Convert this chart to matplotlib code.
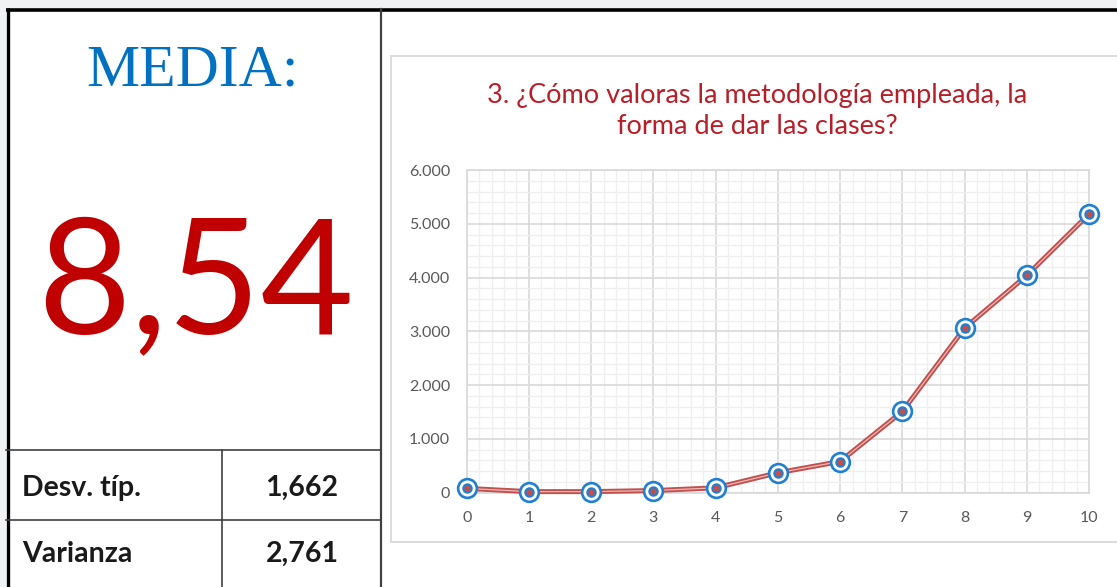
import matplotlib.pyplot as plt
from matplotlib.patches import Rectangle
from matplotlib.ticker import FuncFormatter, MultipleLocator

# ── Data ──────────────────────────────────────────────
scores = [0, 1, 2, 3, 4, 5, 6, 7, 8, 9, 10]
counts = [80, 20, 20, 40, 90, 370, 580, 1510, 3060, 4040, 5180]

mean_label = '8,54'
stats_names = ['Desv. típ.', 'Varianza']
stats_values = ['1,662', '2,761']
title = '3. ¿Cómo valoras la metodología empleada, la\nforma de dar las clases?'

W, H = 1117, 587
fig = plt.figure(figsize=(W / 100, H / 100), dpi=100, facecolor='#F0F2F4')


def px_rect(x0, y0, x1, y1):
    return [x0 / W, 1 - y1 / H, (x1 - x0) / W, (y1 - y0) / H]


# ── Background panel (pixel coordinates) ──────────────
bg = fig.add_axes([0, 0, 1, 1])
bg.set_xlim(0, W)
bg.set_ylim(H, 0)
bg.axis('off')

bg.add_patch(Rectangle((6, 8), W, H, facecolor='white', edgecolor='none'))
# chart frame
bg.add_patch(Rectangle((391, 56), 760, 486, facecolor='white',
                       edgecolor='#D9D9D9', lw=1.3))
# table lines
bg.plot([6, W], [9.5, 9.5], color='black', lw=2.6, solid_capstyle='butt')
bg.plot([7.5, 7.5], [8, H], color='black', lw=2.4, solid_capstyle='butt')
bg.plot([381, 381], [9, H], color='#404040', lw=1.6)
bg.plot([6, 381], [450, 450], color='#404040', lw=1.2)
bg.plot([6, 381], [520, 520], color='#404040', lw=1.2)
bg.plot([222, 222], [450, H], color='#404040', lw=1.2)

bg.text(192, 72, 'MEDIA:', family='Liberation Serif', fontsize=43,
        color='#0070C0', ha='center', va='center')
bg.text(196, 289, mean_label, family='Lato', fontsize=116,
        color='#C00000', ha='center', va='center')
for i, (name, val) in enumerate(zip(stats_names, stats_values)):
    yc = 488 + i * 66
    bg.text(22, yc, name, family='Lato', fontsize=20.5, fontweight='bold',
            color='#1A1A1A', ha='left', va='center')
    bg.text(302, yc, val, family='Lato', fontsize=20.5, fontweight='bold',
            color='#1A1A1A', ha='center', va='center')

bg.text(757, 111, title, family='Lato', fontsize=19.5, color='#B81E28',
        ha='center', va='center', linespacing=1.3)

# ── Line chart ────────────────────────────────────────
ax = fig.add_axes(px_rect(466.7, 170, 1089, 492.7))
ax.set_xlim(0, 10)
ax.set_ylim(0, 6000)
ax.set_facecolor('white')

ax.xaxis.set_major_locator(MultipleLocator(1))
ax.xaxis.set_minor_locator(MultipleLocator(0.2))
ax.yaxis.set_major_locator(MultipleLocator(1000))
ax.yaxis.set_minor_locator(MultipleLocator(200))
ax.grid(True, which='major', color='#D9D9D9', lw=1.2)
ax.grid(True, which='minor', color='#EFEFEF', lw=0.9)
ax.set_axisbelow(True)
for s in ax.spines.values():
    s.set_color('#D9D9D9')
    s.set_linewidth(1.2)

ax.yaxis.set_major_formatter(FuncFormatter(lambda v, p: f'{int(v):,}'.replace(',', '.')))
ax.tick_params(which='both', length=0)
ax.tick_params(axis='y', pad=12, labelsize=11.5, labelcolor='#595959')
ax.tick_params(axis='x', pad=13, labelsize=11.5, labelcolor='#595959')
for lab in ax.get_xticklabels() + ax.get_yticklabels():
    lab.set_family('Lato')

ax.plot(scores, counts, color='#C0504D', lw=3.6, zorder=3, clip_on=False)
ax.plot(scores, counts, color='#F0B8B8', lw=0.9, zorder=4, clip_on=False)
ax.plot(scores, counts, 'o', ms=13.5, mfc='white', mec='#1F7FD0', mew=1.9,
        zorder=5, clip_on=False)
ax.plot(scores, counts, 'o', ms=6, mfc='#C0504D', mec='#1F7FD0', mew=1.5,
        zorder=6, clip_on=False)

plt.savefig('out.png', dpi=100, facecolor=fig.get_facecolor())
